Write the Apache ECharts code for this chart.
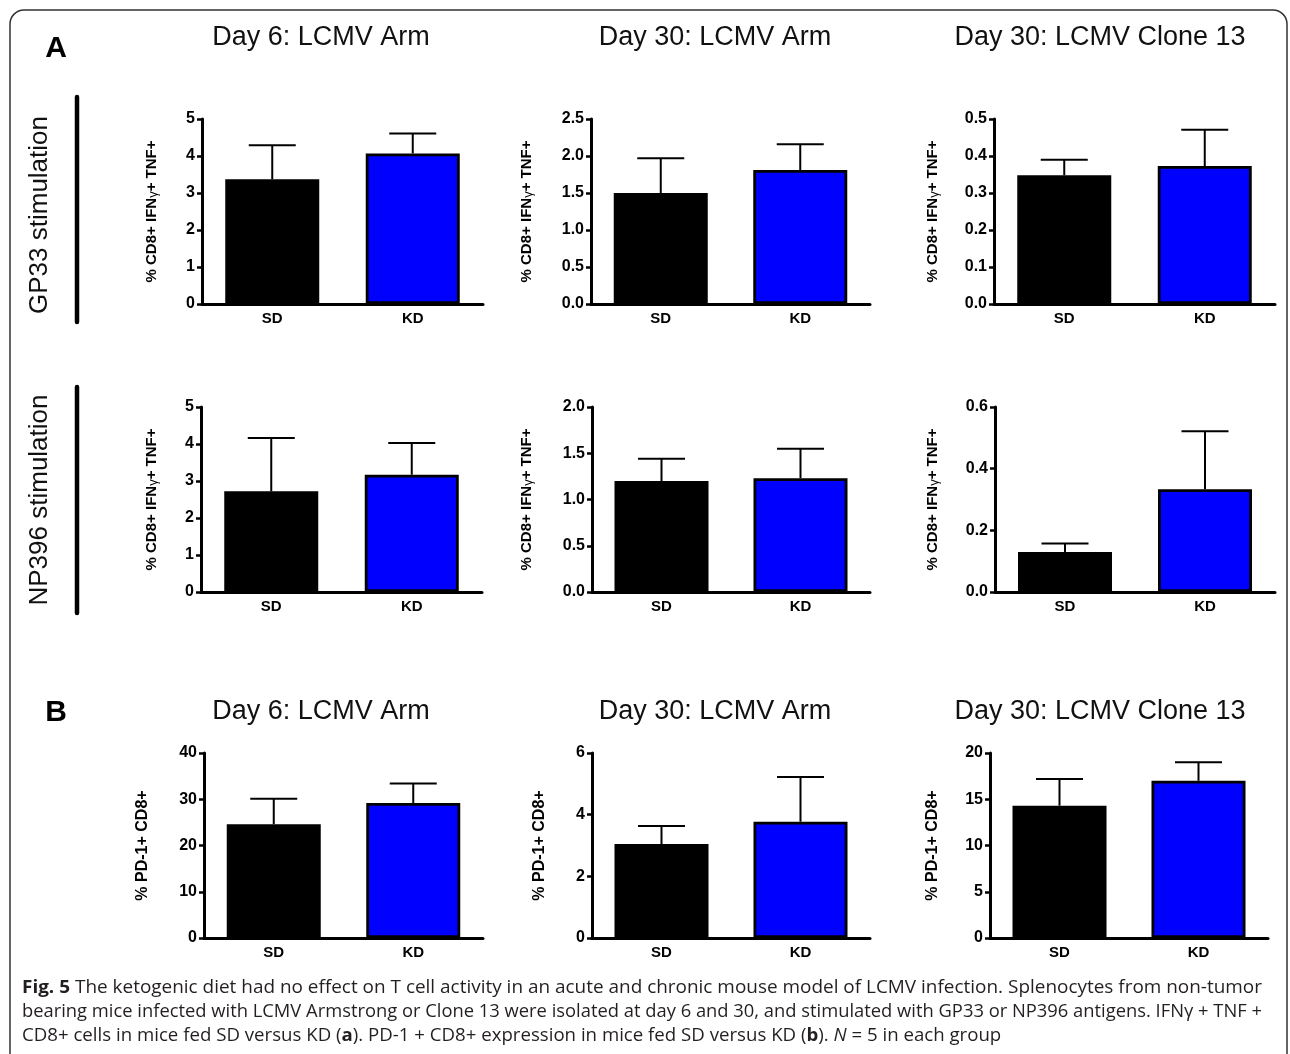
<!DOCTYPE html>
<html>
<head>
<meta charset="utf-8">
<script src="https://cdn.jsdelivr.net/npm/echarts@6/dist/echarts.min.js"></script>
<style>
html,body{margin:0;padding:0;background:#fff;}
#chart{width:1290px;height:1054px;}
</style>
</head>
<body>
<div id="chart"></div>
<script>
// ---------------- DATA ----------------
const categories = ['SD', 'KD'];
const columnTitles = ['Day 6: LCMV Arm', 'Day 30: LCMV Arm', 'Day 30: LCMV Clone 13'];
const rowLabels = ['GP33 stimulation', 'NP396 stimulation'];
const sectionLetters = ['A', 'B'];
const yNameCytokine = '% CD8+ IFNγ+ TNF+';
const yNamePD1 = '% PD-1+ CD8+';

// Panel A, GP33 stimulation (mean, SEM) for SD, KD
const gp33Day6Mean = [3.37, 4.07];
const gp33Day6Sem = [0.92, 0.54];
const gp33Day30ArmMean = [1.50, 1.81];
const gp33Day30ArmSem = [0.47, 0.35];
const gp33Day30Cl13Mean = [0.348, 0.373];
const gp33Day30Cl13Sem = [0.042, 0.098];

// Panel A, NP396 stimulation
const np396Day6Mean = [2.72, 3.17];
const np396Day6Sem = [1.44, 0.86];
const np396Day30ArmMean = [1.20, 1.23];
const np396Day30ArmSem = [0.24, 0.32];
const np396Day30Cl13Mean = [0.130, 0.333];
const np396Day30Cl13Sem = [0.027, 0.188];

// Panel B, PD-1+ CD8+
const pd1Day6Mean = [24.6, 29.2];
const pd1Day6Sem = [5.5, 4.2];
const pd1Day30ArmMean = [3.05, 3.77];
const pd1Day30ArmSem = [0.58, 1.45];
const pd1Day30Cl13Mean = [14.3, 17.0];
const pd1Day30Cl13Sem = [2.9, 2.0];

// Y-axis ticks per panel (row-major)
const yMax = [5, 2.5, 0.5, 5, 2.0, 0.6, 40, 6, 20];
const yInterval = [1, 0.5, 0.1, 1, 0.5, 0.2, 10, 2, 5];
const yDecimals = [0, 1, 1, 0, 1, 1, 0, 0, 0];

const captionLines = [
  '{b|Fig. 5} The ketogenic diet had no effect on T cell activity in an acute and chronic mouse model of LCMV infection. Splenocytes from non-tumor',
  'bearing mice infected with LCMV Armstrong or Clone 13 were isolated at day 6 and 30, and stimulated with GP33 or NP396 antigens. IFNγ + TNF +',
  'CD8+ cells in mice fed SD versus KD ({b|a}). PD-1 + CD8+ expression in mice fed SD versus KD ({b|b}). {i|N} = 5 in each group'
];
const captionPlain = [
  ['Fig. 5', ' The ketogenic diet had no effect on T cell activity in an acute and chronic mouse model of LCMV infection. Splenocytes from non-tumor'],
  ['', 'bearing mice infected with LCMV Armstrong or Clone 13 were isolated at day 6 and 30, and stimulated with GP33 or NP396 antigens. IFNγ + TNF +']
];

const panelMeans = [gp33Day6Mean, gp33Day30ArmMean, gp33Day30Cl13Mean,
                    np396Day6Mean, np396Day30ArmMean, np396Day30Cl13Mean,
                    pd1Day6Mean, pd1Day30ArmMean, pd1Day30Cl13Mean];
const panelSems = [gp33Day6Sem, gp33Day30ArmSem, gp33Day30Cl13Sem,
                   np396Day6Sem, np396Day30ArmSem, np396Day30Cl13Sem,
                   pd1Day6Sem, pd1Day30ArmSem, pd1Day30Cl13Sem];

// ---------------- LAYOUT / STYLE ----------------
const barColors = ['#000000', '#0000FF'];
const FONT = '"Liberation Sans", Arial, Helvetica, sans-serif';
const rowTops = [119, 407, 753];
const gridH = 185;
const colSpans = [
  [[202, 483], [591, 870], [994, 1275]],
  [[201, 482], [592, 870], [995, 1275]],
  [[204, 483], [592, 870], [990, 1268]]
];
const nameGaps = [[42, 56, 53], [41, 57, 54], [53, 44, 49]];

const grids = [], xAxes = [], yAxes = [], series = [];
for (let r = 0; r < 3; r++) {
  for (let c = 0; c < 3; c++) {
    const i = r * 3 + c;
    const [l, rt] = colSpans[r][c];
    grids.push({left: l, top: rowTops[r], width: rt - l, height: gridH, containLabel: false});
    xAxes.push({
      type: 'category', gridIndex: i, data: categories,
      axisLine: {lineStyle: {color: '#000', width: 3}},
      axisTick: {show: false},
      axisLabel: {color: '#000', fontWeight: 'bold', fontSize: 15, fontFamily: FONT, margin: 7},
      splitLine: {show: false}
    });
    const dec = yDecimals[i];
    const isPD1 = r === 2;
    yAxes.push({
      type: 'value', gridIndex: i, min: 0, max: yMax[i], interval: yInterval[i],
      axisLine: {show: true, lineStyle: {color: '#000', width: 3}},
      axisTick: {show: true, length: 5, lineStyle: {color: '#000', width: 2.5}},
      axisLabel: {color: '#000', fontWeight: 'bold', fontSize: 16, fontFamily: FONT, margin: 7,
        formatter: v => Number(v).toFixed(dec)},
      splitLine: {show: false},
      name: isPD1 ? yNamePD1 : '{n|% CD8+ IFN}{g|γ}{n|+ TNF+}',
      nameLocation: 'middle', nameRotate: 90, nameGap: nameGaps[r][c],
      nameTextStyle: isPD1
        ? {color: '#000', fontWeight: 'bold', fontSize: 16, fontFamily: FONT}
        : {color: '#000', fontFamily: FONT, fontSize: 15, fontWeight: 'bold',
           rich: {n: {fontWeight: 'bold', fontSize: 15, fontFamily: FONT, color: '#000'},
                  g: {fontWeight: 'normal', fontSize: 13, fontFamily: FONT, color: '#000', padding: [3, 0, 0, 0]}}}
    });
    const means = panelMeans[i], sems = panelSems[i];
    series.push({
      type: 'bar', xAxisIndex: i, yAxisIndex: i, barWidth: 94, silent: true,
      itemStyle: {borderColor: '#000', borderWidth: 2.8},
      data: means.map((v, k) => ({value: v, itemStyle: {color: barColors[k]}}))
    });
    series.push({
      type: 'custom', xAxisIndex: i, yAxisIndex: i, silent: true, z: 3,
      encode: {x: 0, y: 1},
      data: means.map((v, k) => [k, v, sems[k]]),
      renderItem: (params, api) => {
        const base = api.coord([api.value(0), api.value(1)]);
        const top = api.coord([api.value(0), api.value(1) + api.value(2)]);
        const st = {stroke: '#000', lineWidth: 2};
        return {type: 'group', children: [
          {type: 'line', shape: {x1: base[0], y1: base[1], x2: top[0], y2: top[1]}, style: st},
          {type: 'line', shape: {x1: top[0] - 23.5, y1: top[1], x2: top[0] + 23.5, y2: top[1]}, style: st}
        ]};
      }
    });
  }
}

// Caption scale (condensed look)
const mctx = document.createElement('canvas').getContext('2d');
const CAP_FONT = '"Open Sans", "Noto Sans", sans-serif';
const CAP_SIZE = 18.5;
function mw(t, w) { mctx.font = `${w} ${CAP_SIZE}px ${CAP_FONT}`; return mctx.measureText(t).width; }
const capTarget = 1240;
const s1 = capTarget / (mw(captionPlain[0][0], 'bold') + mw(captionPlain[0][1], 'normal'));
const s2 = capTarget / mw(captionPlain[1][1], 'normal');
const s3 = (s1 + s2) / 2;
const capScales = [s1, s2, s3];
const capY = [988, 1012, 1036];

const graphics = [];
// Frame
graphics.push({type: 'rect', silent: true,
  shape: {x: 10, y: 10, width: 1277, height: 1100, r: [14, 14, 0, 0]},
  style: {fill: 'none', stroke: '#333', lineWidth: 1.5}});
// Section letters
[[56, 49], [56, 713]].forEach((p, k) => graphics.push({type: 'text', x: p[0], y: p[1], silent: true,
  style: {text: sectionLetters[k], font: `bold 30px ${FONT}`, fill: '#000', align: 'center', verticalAlign: 'middle'}}));
// Column titles
const titleX = [321, 715, 1100];
[38, 712].forEach(y => titleX.forEach((x, k) => graphics.push({type: 'text', x: x, y: y, silent: true,
  style: {text: columnTitles[k], font: `27px ${FONT}`, fill: '#111', align: 'center', verticalAlign: 'middle'}})));
// Row labels + black bars
[[215, 97, 322], [500, 387, 613]].forEach((p, k) => {
  graphics.push({type: 'text', x: 40, y: p[0], rotation: Math.PI / 2, silent: true,
    style: {text: rowLabels[k], font: `26px ${FONT}`, fill: '#111', align: 'center', verticalAlign: 'middle'}});
  graphics.push({type: 'line', silent: true, shape: {x1: 77, y1: p[1], x2: 77, y2: p[2]},
    style: {stroke: '#000', lineWidth: 4.5, lineCap: 'round'}});
});
// Caption
captionLines.forEach((t, k) => graphics.push({type: 'text', x: 22, y: capY[k], scaleX: capScales[k], silent: true,
  style: {text: t, font: `${CAP_SIZE}px ${CAP_FONT}`, fill: '#231f20', align: 'left', verticalAlign: 'middle',
    rich: {b: {fontWeight: 'bold', fontSize: CAP_SIZE, fontFamily: CAP_FONT, fill: '#231f20'},
           i: {fontStyle: 'italic', fontSize: CAP_SIZE, fontFamily: CAP_FONT, fill: '#231f20'}}}}));

const chart = echarts.init(document.getElementById('chart'), null, {renderer: 'canvas'});
chart.setOption({
  animation: false,
  backgroundColor: '#fff',
  grid: grids, xAxis: xAxes, yAxis: yAxes, series: series,
  graphic: graphics
});
</script>
</body>
</html>
